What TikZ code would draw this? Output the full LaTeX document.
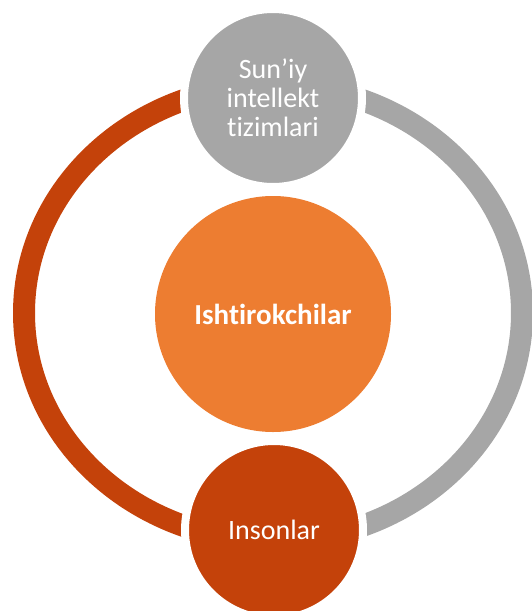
\documentclass[tikz,border=0pt]{standalone}
\usepackage{fontspec}
\setmainfont{Carlito}[Ligatures={NoCommon,TeX}]
\definecolor{ringred}{RGB}{196,66,10}
\definecolor{ringgray}{RGB}{166,166,166}
\definecolor{midorange}{RGB}{237,125,49}
\begin{document}
\begin{tikzpicture}[x=1pt, y=-1pt, line join=round,
	font=\fontsize{28}{29}\selectfont,
	ring/.style={line width=22pt},
	part/.style={circle, draw=white, line width=8pt, minimum size=178pt, inner sep=0pt, text=white, align=center}]
			\useasboundingbox (0,0) rectangle (531,611);
			\coordinate (ringtop) at (273,85);
			\draw[ring, ringred] (ringtop) arc[start angle=90, end angle=270, x radius=249pt, y radius=228pt];
			\draw[ring, ringgray] (ringtop) arc[start angle=90, end angle=-90, x radius=249pt, y radius=228pt];
			\node[part, fill=ringgray] (ai) at (273,98) {Sun'iy\\intellekt\\tizimlari};
			\node[part, fill=ringred] (people) at (274,530) {Insonlar};
			\node[circle, fill=midorange, minimum size=236pt, text=white, font=\fontsize{29}{30}\selectfont\bfseries] (parts) at (273,314) {Ishtirokchilar};
		\end{tikzpicture}
\end{document}
